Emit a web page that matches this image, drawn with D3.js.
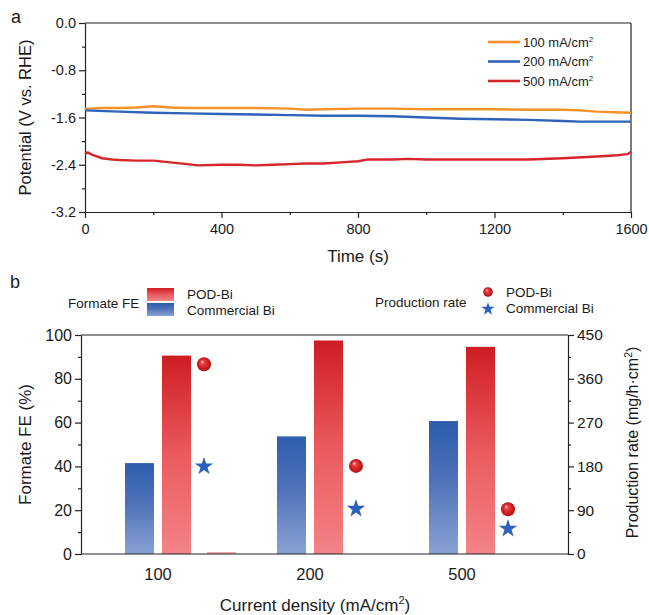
<!DOCTYPE html>
<html><head><meta charset="utf-8">
<script src="https://cdn.jsdelivr.net/npm/d3@7"></script>
<style>body{margin:0;background:#fff}text{font-family:"Liberation Sans",Arial,sans-serif;fill:#1a1a1a}</style>
</head><body><svg id="c" width="649" height="615"></svg>
<script>
// ---------- Panel a data ----------
const t100 = [0,10,50,100,150,200,250,300,400,500,600,650,700,800,900,1000,1100,1200,1300,1400,1450,1500,1550,1600];
const v100 = [-1.45,-1.45,-1.44,-1.44,-1.43,-1.41,-1.43,-1.44,-1.44,-1.44,-1.45,-1.47,-1.46,-1.45,-1.45,-1.46,-1.46,-1.46,-1.47,-1.47,-1.48,-1.50,-1.51,-1.52];
const t200 = [0,100,200,300,400,500,600,700,800,900,1000,1100,1200,1300,1400,1450,1500,1600];
const v200 = [-1.48,-1.50,-1.52,-1.53,-1.54,-1.55,-1.56,-1.57,-1.57,-1.58,-1.60,-1.62,-1.63,-1.64,-1.66,-1.67,-1.67,-1.67];
const t500 = [0,8,20,50,80,100,150,200,250,300,330,400,450,500,550,600,650,700,750,800,830,900,950,1000,1100,1200,1300,1400,1500,1560,1590,1600];
const v500 = [-2.22,-2.19,-2.23,-2.29,-2.31,-2.32,-2.33,-2.33,-2.36,-2.39,-2.41,-2.40,-2.40,-2.41,-2.40,-2.39,-2.38,-2.38,-2.36,-2.34,-2.31,-2.31,-2.30,-2.31,-2.31,-2.31,-2.31,-2.29,-2.26,-2.24,-2.22,-2.18];
const seriesNames = ["100 mA/cm", "200 mA/cm", "500 mA/cm"];
const seriesColors = ["#f7922a", "#2f62b8", "#d7262b"];
const xTicksA = [0,400,800,1200,1600];
const yTicksA = [0,-0.8,-1.6,-2.4,-3.2];

// ---------- Panel b data ----------
const categories = ["100", "200", "500"];
const feCommercial = [41.5, 53.7, 60.7];
const fePOD = [90.6, 97.5, 94.6];
const feStray = [0.4, 0, 0];
const ratePOD = [390, 181, 92];
const rateCommercial = [180, 93, 52];
const yTicksBL = [0,20,40,60,80,100];
const yTicksBR = [0,90,180,270,360,450];

const svg = d3.select("#c");
const defs = svg.append("defs");

// ================= Panel a =================
const A = {l:85, r:631, t:23, b:212};
const xa = d3.scaleLinear().domain([0,1600]).range([A.l, A.r]);
const ya = d3.scaleLinear().domain([-3.2,0]).range([A.b, A.t]);
const ga = svg.append("g");

ga.append("line").attr("x1",A.l).attr("x2",A.r).attr("y1",A.t).attr("y2",A.t).attr("stroke","#222").attr("stroke-width",1.2);
ga.append("line").attr("x1",A.r).attr("x2",A.r).attr("y1",A.t).attr("y2",A.b).attr("stroke","#222").attr("stroke-width",1.2);

function styleAxis(g){
  g.selectAll(".domain").attr("stroke","#222").attr("stroke-width",1.2);
  g.selectAll(".tick line").attr("stroke","#222").attr("stroke-width",1.2);
}
function minor(g){ g.select(".domain").remove(); g.selectAll(".tick line").attr("stroke","#222").attr("stroke-width",1.2); }
ga.append("g").attr("transform",`translate(0,${A.b})`)
  .call(d3.axisBottom(xa).tickValues([200,600,1000,1400]).tickSize(3).tickFormat("")).call(minor);
ga.append("g").attr("transform",`translate(${A.l},0)`)
  .call(d3.axisLeft(ya).tickValues([-0.4,-1.2,-2.0,-2.8]).tickSize(3).tickFormat("")).call(minor);

const axBa = ga.append("g").attr("transform",`translate(0,${A.b})`)
  .call(d3.axisBottom(xa).tickValues(xTicksA).tickSize(6).tickSizeOuter(0).tickPadding(6).tickFormat(d3.format("d")));
styleAxis(axBa);
axBa.selectAll("text").attr("font-size",14.5).attr("fill","#1a1a1a");
const axLa = ga.append("g").attr("transform",`translate(${A.l},0)`)
  .call(d3.axisLeft(ya).tickValues(yTicksA).tickSize(6).tickSizeOuter(0).tickPadding(3).tickFormat(d3.format(".1f")));
styleAxis(axLa);
axLa.selectAll("text").attr("font-size",14.5).attr("fill","#1a1a1a").text(d=>d3.format(".1f")(d).replace("−","-"));

const lineA = d3.line().x(d=>xa(d[0])).y(d=>ya(d[1]));
const seriesData = [d3.zip(t100,v100), d3.zip(t200,v200), d3.zip(t500,v500)];
seriesData.forEach((s,i)=>{
  ga.append("path").datum(s).attr("d",lineA).attr("fill","none")
    .attr("stroke",seriesColors[i]).attr("stroke-width",2.4).attr("stroke-linejoin","round");
});
seriesNames.forEach((n,i)=>{
  const y = 42 + i*19.5;
  ga.append("line").attr("x1",488).attr("x2",520).attr("y1",y).attr("y2",y).attr("stroke",seriesColors[i]).attr("stroke-width",2.6);
  const t = ga.append("text").attr("x",523).attr("y",y+4.5).attr("font-size",13);
  t.append("tspan").text(n);
  t.append("tspan").attr("dy",-5).attr("font-size",8).text("2");
});
ga.append("text").attr("x",358).attr("y",262).attr("text-anchor","middle").attr("font-size",17).text("Time (s)");
ga.append("text").attr("transform",`translate(31,${(A.t+A.b)/2}) rotate(-90)`).attr("text-anchor","middle").attr("font-size",16.5).text("Potential (V vs. RHE)");
ga.append("text").attr("x",11).attr("y",23).attr("font-size",18).text("a");

// ================= Panel b =================
const B = {l:81, r:568, t:335, b:554};
const xb = d3.scaleBand().domain(categories).range([82, 538]);
const yb = d3.scaleLinear().domain([0,100]).range([B.b, B.t]);
const yr = d3.scaleLinear().domain([0,450]).range([B.b, B.t]);
const gb = svg.append("g");

const gBlue = defs.append("linearGradient").attr("id","gBlue").attr("x1",0).attr("y1",0).attr("x2",0).attr("y2",1);
gBlue.append("stop").attr("offset","0%").attr("stop-color","#2d5dad");
gBlue.append("stop").attr("offset","45%").attr("stop-color","#4f72b9");
gBlue.append("stop").attr("offset","100%").attr("stop-color","#89a2d4");
const gRed = defs.append("linearGradient").attr("id","gRed").attr("x1",0).attr("y1",0).attr("x2",0).attr("y2",1);
gRed.append("stop").attr("offset","0%").attr("stop-color","#cf1d24");
gRed.append("stop").attr("offset","50%").attr("stop-color","#ea5a5c");
gRed.append("stop").attr("offset","100%").attr("stop-color","#f38387");
const gSph = defs.append("radialGradient").attr("id","gSph").attr("cx","50%").attr("cy","50%").attr("r","50%").attr("fx","35%").attr("fy","30%");
gSph.append("stop").attr("offset","0%").attr("stop-color","#ffd6d6");
gSph.append("stop").attr("offset","30%").attr("stop-color","#ec3a3a");
gSph.append("stop").attr("offset","100%").attr("stop-color","#b30f14");

const barW = 29, gap = 8;
const groupCenter = c => xb(c) + xb.bandwidth()/2;
gb.selectAll(".bb").data(categories).join("rect")
  .attr("x",c=>groupCenter(c)-gap/2-barW).attr("width",barW)
  .attr("y",(c,i)=>yb(feCommercial[i])).attr("height",(c,i)=>B.b-yb(feCommercial[i]))
  .attr("fill","url(#gBlue)");
gb.selectAll(".br").data(categories).join("rect")
  .attr("x",c=>groupCenter(c)+gap/2).attr("width",barW)
  .attr("y",(c,i)=>yb(fePOD[i])).attr("height",(c,i)=>B.b-yb(fePOD[i]))
  .attr("fill","url(#gRed)");
gb.selectAll(".bs").data(categories).join("rect")
  .attr("x",c=>groupCenter(c)+gap/2+barW+16).attr("width",barW)
  .attr("y",(c,i)=>yb(feStray[i])-1).attr("height",(c,i)=>feStray[i]>0?B.b-yb(feStray[i])+1:0)
  .attr("fill","#e98a8c").attr("opacity",0.8);
const mx = c => groupCenter(c)+gap/2+barW+13;
gb.selectAll(".st").data(categories).join("path")
  .attr("d",d3.symbol().type(d3.symbolStar).size(105))
  .attr("transform",(c,i)=>`translate(${mx(c)},${yr(rateCommercial[i])})`)
  .attr("fill","#2c5fbf");
gb.selectAll(".sp").data(categories).join("circle")
  .attr("cx",c=>mx(c)).attr("cy",(c,i)=>yr(ratePOD[i])).attr("r",7)
  .attr("fill","url(#gSph)");

gb.append("line").attr("x1",B.l).attr("x2",B.r).attr("y1",B.t).attr("y2",B.t).attr("stroke","#222").attr("stroke-width",1.2);
gb.append("line").attr("x1",B.l).attr("x2",B.r).attr("y1",B.b).attr("y2",B.b).attr("stroke","#222").attr("stroke-width",1.2);
gb.append("g").attr("transform",`translate(${B.l},0)`)
  .call(d3.axisLeft(yb).tickValues([10,30,50,70,90]).tickSize(3).tickFormat("")).call(minor);
gb.append("g").attr("transform",`translate(${B.r},0)`)
  .call(d3.axisRight(yr).tickValues([45,135,225,315,405]).tickSize(3).tickFormat("")).call(minor);
const axLb = gb.append("g").attr("transform",`translate(${B.l},0)`)
  .call(d3.axisLeft(yb).tickValues(yTicksBL).tickSize(6).tickSizeOuter(0).tickPadding(3));
styleAxis(axLb); axLb.selectAll("text").attr("font-size",16).attr("fill","#1a1a1a");
const axRb = gb.append("g").attr("transform",`translate(${B.r},0)`)
  .call(d3.axisRight(yr).tickValues(yTicksBR).tickSize(6).tickSizeOuter(0).tickPadding(3));
styleAxis(axRb); axRb.selectAll("text").attr("font-size",15.5).attr("fill","#1a1a1a");
const axBb = gb.append("g").attr("transform",`translate(0,${B.b})`)
  .call(d3.axisBottom(xb).tickSize(0).tickPadding(14));
axBb.select(".domain").remove();
axBb.selectAll("text").attr("font-size",16.5).attr("fill","#1a1a1a");

const xt = gb.append("text").attr("x",315).attr("y",611).attr("text-anchor","middle").attr("font-size",17);
xt.append("tspan").text("Current density (mA/cm");
xt.append("tspan").attr("dy",-7).attr("font-size",11).text("2");
xt.append("tspan").attr("dy",7).text(")");
gb.append("text").attr("transform",`translate(31,${(B.t+B.b)/2}) rotate(-90)`).attr("text-anchor","middle").attr("font-size",17).text("Formate FE (%)");
const rt = gb.append("text").attr("transform",`translate(638,${(B.t+B.b)/2-2}) rotate(-90)`).attr("text-anchor","middle").attr("font-size",16);
rt.append("tspan").text("Production rate (mg/h·cm");
rt.append("tspan").attr("dy",-6).attr("font-size",10.5).text("2");
rt.append("tspan").attr("dy",6).text(")");
gb.append("text").attr("x",10).attr("y",288).attr("font-size",18).text("b");

// legend b
gb.append("text").attr("x",68).attr("y",308).attr("font-size",13.5).text("Formate FE");
gb.append("rect").attr("x",147).attr("y",288).attr("width",27).attr("height",13).attr("fill","url(#gRed)");
gb.append("rect").attr("x",147).attr("y",303).attr("width",27).attr("height",13).attr("fill","url(#gBlue)");
gb.append("text").attr("x",187).attr("y",299).attr("font-size",13.5).text("POD-Bi");
gb.append("text").attr("x",187).attr("y",315).attr("font-size",13.5).text("Commercial Bi");
gb.append("text").attr("x",375).attr("y",307).attr("font-size",13.5).text("Production rate");
gb.append("circle").attr("cx",488).attr("cy",292).attr("r",4.8).attr("fill","url(#gSph)");
gb.append("path").attr("d",d3.symbol().type(d3.symbolStar).size(55)).attr("transform","translate(488,309)").attr("fill","#2c5fbf");
gb.append("text").attr("x",506).attr("y",297).attr("font-size",13.5).text("POD-Bi");
gb.append("text").attr("x",506).attr("y",313).attr("font-size",13.5).text("Commercial Bi");
</script></body></html>
